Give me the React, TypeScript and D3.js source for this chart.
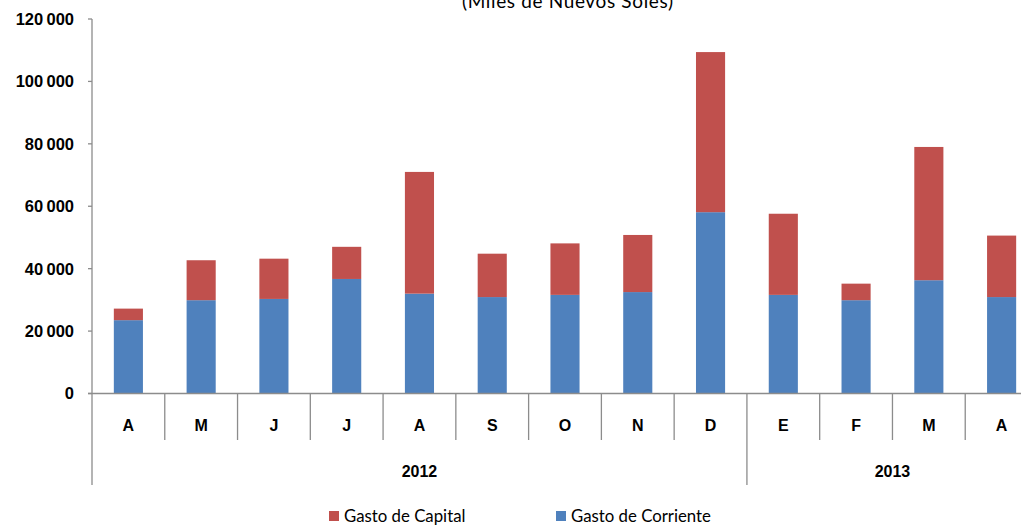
import React from "react";
import * as d3 from "d3";

const months = ["A", "M", "J", "J", "A", "S", "O", "N", "D", "E", "F", "M", "A"];
const years = [
  { label: "2012", count: 9 },
  { label: "2013", count: 4 },
];
const gastoCorriente = [23.5, 29.9, 30.3, 36.7, 32.0, 30.9, 31.6, 32.5, 58.1, 31.6, 29.9, 36.3, 30.9];
const gastoTotal = [27.2, 42.7, 43.2, 47.0, 71.0, 44.8, 48.1, 50.8, 109.4, 57.6, 35.2, 79.0, 50.6];
const gastoCapital = gastoTotal.map((t, i) => +(t - gastoCorriente[i]).toFixed(1));
const yTicks = [0, 20000, 40000, 60000, 80000, 100000, 120000];
const title = "(Miles de Nuevos Soles)";
const seriesNames = ["Gasto de Capital", "Gasto de Corriente"];
const colors = { capital: "#C0504D", corriente: "#4F81BD" };

const W = 1021;
const H = 526;
const axisColor = "#8c8c8c";

export default function App() {
  const keys = months.map((m, i) => `${i}-${m}`);
  const x = d3.scaleBand<string>().domain(keys).range([92, 1038]).paddingInner(0.6).paddingOuter(0.3);
  const y = d3.scaleLinear().domain([0, 120000]).range([393.5, 19]);
  const step = x.step();
  const x0 = 92;
  const fmt = (v: number) => d3.format(",")(v).replace(/,/g, "\u2009");

  const stackData = months.map((m, i) => ({
    key: keys[i],
    corriente: gastoCorriente[i] * 1000,
    capital: gastoCapital[i] * 1000,
  }));
  const stack = d3.stack<any>().keys(["corriente", "capital"])(stackData);

  let cum = 0;
  const yearBounds = years.map((yr) => {
    const start = cum;
    cum += yr.count;
    return { ...yr, start, end: cum };
  });

  return (
    <svg width={W} height={H} style={{ position: "absolute", left: 0, top: 0 }}>
      <rect width={W} height={H} fill="#fff" />
      <text
        x={462}
        y={8}
        textLength={211}
        lengthAdjust="spacing"
        fontFamily="Lato, 'Noto Sans', sans-serif"
        fontSize={19}
        fill="#000"
      >
        {title}
      </text>
      {stack.map((s) => (
        <g key={s.key} fill={s.key === "capital" ? colors.capital : colors.corriente}>
          {s.map((d: any, i: number) => (
            <rect
              key={i}
              x={x(keys[i])}
              width={x.bandwidth()}
              y={y(d[1])}
              height={y(d[0]) - y(d[1])}
            />
          ))}
        </g>
      ))}
      {/* y axis */}
      <line x1={x0} x2={x0} y1={y(120000)} y2={485} stroke={axisColor} strokeWidth={1.3} />
      {yTicks.map((t) => (
        <g key={t}>
          <line x1={88} x2={x0} y1={y(t)} y2={y(t)} stroke={axisColor} strokeWidth={1.3} />
          <text
            x={74}
            y={y(t)}
            dy="0.36em"
            textAnchor="end"
            fontFamily="Arial, 'Liberation Sans', sans-serif"
            fontWeight="bold"
            fontSize={16.5}
            fill="#000"
          >
            {fmt(t)}
          </text>
        </g>
      ))}
      {/* x axis baseline */}
      <line x1={88} x2={1040} y1={y(0)} y2={y(0)} stroke={axisColor} strokeWidth={1.3} />
      {keys.map((k, i) => (
        <g key={k}>
          {i > 0 && (
            <line
              x1={x0 + i * step}
              x2={x0 + i * step}
              y1={y(0)}
              y2={yearBounds.some((b) => b.start === i) ? 485 : 440}
              stroke={axisColor}
              strokeWidth={1.3}
            />
          )}
          <text
            x={(x(k) as number) + x.bandwidth() / 2}
            y={430.5}
            textAnchor="middle"
            fontFamily="Arial, 'Liberation Sans', sans-serif"
            fontWeight="bold"
            fontSize={16}
            fill="#000"
          >
            {months[i]}
          </text>
        </g>
      ))}
      {yearBounds.map((b) => (
        <text
          key={b.label}
          x={x0 + ((b.start + b.end) / 2) * step}
          y={476.5}
          textAnchor="middle"
          fontFamily="Arial, 'Liberation Sans', sans-serif"
          fontWeight="bold"
          fontSize={16}
          fill="#000"
        >
          {b.label}
        </text>
      ))}
      {/* legend */}
      <g fontFamily="Lato, 'Noto Sans', sans-serif" fontSize={16.8} fill="#000">
        <rect x={329} y={511} width={10} height={10} fill={colors.capital} />
        <text x={344} y={522}>{seriesNames[0]}</text>
        <rect x={556} y={511} width={10} height={10} fill={colors.corriente} />
        <text x={571} y={522}>{seriesNames[1]}</text>
      </g>
    </svg>
  );
}
